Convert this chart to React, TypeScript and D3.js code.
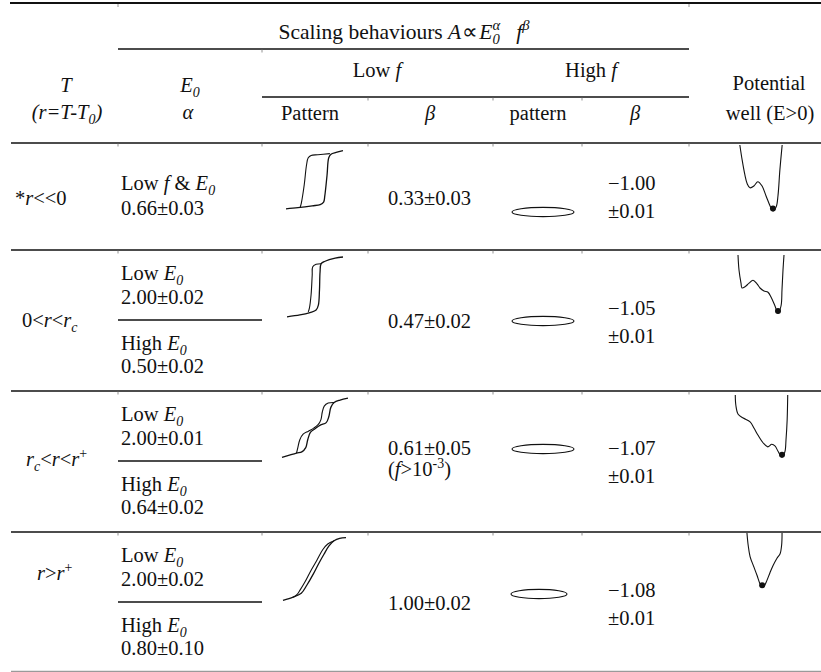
import React from "react";
import * as d3 from "d3";

type Seg = { t: string; i?: boolean; sub?: boolean; sup?: boolean; dx?: number };
const S = (t: string): Seg => ({ t });
const I = (t: string): Seg => ({ t, i: true });
const Sub = (t: string, i = true): Seg => ({ t, i, sub: true });
const Sup = (t: string, i = false): Seg => ({ t, i, sup: true });

// ---------------- data ----------------
const regimeLabels: Seg[][] = [
  [S("*"), I("r"), S("<<0")],
  [S("0<"), I("r"), S("<"), I("r"), Sub("c")],
  [I("r"), Sub("c"), S("<"), I("r"), S("<"), I("r"), Sup("+")],
  [I("r"), S(">"), I("r"), Sup("+")],
];
const alphaLowCond: Seg[][] = [
  [S("Low "), I("f"), S(" & "), I("E"), Sub("0")],
  [S("Low "), I("E"), Sub("0")],
  [S("Low "), I("E"), Sub("0")],
  [S("Low "), I("E"), Sub("0")],
];
const alphaLowVal = ["0.66±0.03", "2.00±0.02", "2.00±0.01", "2.00±0.02"];
const alphaHighCond: (Seg[] | null)[] = [
  null,
  [S("High "), I("E"), Sub("0")],
  [S("High "), I("E"), Sub("0")],
  [S("High "), I("E"), Sub("0")],
];
const alphaHighVal = ["", "0.50±0.02", "0.64±0.02", "0.80±0.10"];
const betaLowVal = ["0.33±0.03", "0.47±0.02", "0.61±0.05", "1.00±0.02"];
const betaLowNote: (Seg[] | null)[] = [null, null, [S("("), I("f"), S(">10"), Sup("-3"), S(")")], null];
const betaHighVal = ["−1.00", "−1.05", "−1.07", "−1.08"];
const betaHighErr = ["±0.01", "±0.01", "±0.01", "±0.01"];

// low-f hysteresis patterns (unit box 0..100, y down): rising & falling branches
const loopUp: [number, number][][] = [
  [[0, 98], [21, 96], [46, 93], [60, 91], [66, 87], [68, 77], [72, 42], [75, 13], [79, 7], [88, 4], [100, 1]],
  [[0, 98], [23, 95], [41, 91], [52, 87], [56, 79], [58, 54], [59, 25], [61, 11], [68, 7], [86, 2], [100, 0]],
  [[0, 99], [22, 92], [30, 90], [36, 83], [39, 70], [43, 58], [50, 52], [58, 46], [67, 42], [71, 32], [74, 17], [79, 9], [88, 5], [100, 2]],
  [[0, 99], [16, 94], [29, 88], [38, 75], [48, 58], [57, 41], [65, 27], [73, 14], [81, 6], [90, 2], [100, 1]],
];
const loopDown: [number, number][][] = [
  [[77, 6], [56, 8], [44, 9], [39, 13], [36, 25], [32, 58], [27, 88], [25, 95]],
  [[61, 11], [52, 12], [46, 16], [45, 30], [43, 62], [40, 84], [38, 90]],
  [[79, 9], [70, 10], [64, 15], [61, 25], [59, 37], [55, 45], [48, 51], [40, 56], [32, 61], [27, 70], [24, 83], [22, 92]],
  [[81, 6], [71, 11], [63, 20], [54, 36], [44, 53], [35, 70], [27, 83], [22, 90], [16, 94]],
];
// potential wells (unit box 0..100) and the ball position
const wellCurve: [number, number][][] = [
  [[4, 0], [9, 22], [15, 44], [20, 57], [26, 63], [35, 60], [43, 54], [52, 60], [61, 75], [70, 90], [76, 97], [83, 91], [87, 74], [91, 37], [96, 0]],
  [[4, 0], [6, 25], [10, 47], [12, 55], [18, 53], [26, 47], [34, 42], [42, 48], [48, 55], [56, 60], [64, 62], [70, 70], [78, 85], [84, 97], [90, 85], [92, 58], [94, 25], [96, 0]],
  [[4, 0], [5, 16], [9, 30], [18, 36], [30, 42], [37, 52], [44, 63], [53, 75], [61, 81], [68, 77], [74, 80], [79, 88], [86, 97], [91, 89], [93, 70], [95, 39], [96, 0]],
  [[5, 0], [8, 21], [13, 42], [23, 61], [31, 76], [38, 90], [44, 97], [49, 95], [56, 85], [64, 71], [72, 58], [82, 45], [90, 37], [94, 21], [95, 0]],
];
const wellBall: [number, number][] = [[76, 95], [84, 95], [86, 95], [44, 95]];

// ---------------- layout ----------------
const FS = 20.5;
const FONT = "'Liberation Serif','Times New Roman',Times,serif";
const INK = "#111";
const colEdges = [118, 262, 368, 493, 582, 689];
const rowLines = [143, 250, 391, 532];
const rowDiv = [null, 320, 461, 602];
const regimeX = [15, 22, 26, 37];
const regimeY = [205, 327, 466, 580];
const loopBox = [
  [286, 343, 150, 210],
  [287, 343, 257, 318],
  [282, 348, 397, 458],
  [283, 346, 537, 601],
];
const wellBox = [
  [738, 784, 145, 213],
  [736, 786, 255, 315],
  [733, 790, 395, 459],
  [745, 784, 533, 589],
];
const ellipseC = [
  [543, 212, 31],
  [543, 321, 31],
  [543, 449, 31],
  [539, 594, 28],
];
const betaLowY = [205, 328, 455, 610];
const betaHighY = [190, 315, 455, 597];

function Rich({ x, y, segs, anchor = "start", size = FS, italic = false }: { x: number; y: number; segs: Seg[]; anchor?: string; size?: number; italic?: boolean }) {
  let cur = 0;
  const kids = segs.map((s, k) => {
    const target = s.sub ? size * 0.24 : s.sup ? -size * 0.4 : 0;
    const dy = target - cur;
    cur = target;
    return (
      <tspan key={k} dx={s.dx} dy={dy} fontStyle={s.i || italic ? "italic" : "normal"} fontSize={s.sub || s.sup ? size * 0.68 : size}>
        {s.t}
      </tspan>
    );
  });
  return (
    <text x={x} y={y} textAnchor={anchor as any} fontSize={size} fontFamily={FONT} fill={INK} style={{ whiteSpace: "pre" }}>
      {kids}
    </text>
  );
}

function Txt({ x, y, t, anchor = "start", italic = false }: { x: number; y: number; t: string; anchor?: string; italic?: boolean }) {
  return (
    <text x={x} y={y} textAnchor={anchor as any} fontSize={FS} fontFamily={FONT} fill={INK} fontStyle={italic ? "italic" : "normal"}>
      {t}
    </text>
  );
}

function glyphPath(pts: [number, number][], box: number[]) {
  const xs = d3.scaleLinear().domain([0, 100]).range([box[0], box[1]]);
  const ys = d3.scaleLinear().domain([0, 100]).range([box[2], box[3]]);
  const line = d3
    .line<[number, number]>()
    .x((d) => xs(d[0]))
    .y((d) => ys(d[1]))
    .curve(d3.curveCatmullRom.alpha(0.5));
  return line(pts) || "";
}

export default function App() {
  const hl = (y: number, x1: number, x2: number, w = 1.3, c = INK) => (
    <line key={`h${y}-${x1}`} x1={x1} x2={x2} y1={y} y2={y} stroke={c} strokeWidth={w} />
  );
  const ticks = (y: number, xs: number[]) =>
    xs.map((x) => <line key={`t${y}-${x}`} x1={x} x2={x} y1={y} y2={y + 3} stroke="#777" strokeWidth={0.8} />);

  return (
    <svg width={821} height={672} style={{ display: "block", position: "absolute", left: 0, top: 0, background: "#fff" }}>
      <rect width={821} height={672} fill="#fff" />
      {/* rules */}
      {hl(3, 10, 821, 2.2)}
      {ticks(4, [118, 689])}
      {hl(49, 118, 689)}
      {ticks(49.5, [262])}
      {hl(97, 262, 689)}
      {ticks(97.5, [368, 493, 582])}
      {rowLines.map((y) => hl(y, 11, 821))}
      {rowLines.map((y) => ticks(y + 0.5, colEdges))}
      {hl(671.5, 11, 821, 1.3, "#9a9a9a")}
      {rowDiv.map((y) => (y ? hl(y, 118, 262) : null))}

      {/* header */}
      <Rich
        x={404}
        y={39}
        anchor="middle"
        size={21.5}
        segs={[S("Scaling behaviours "), I("A"), { t: "∝", dx: 1 }, { t: "E", i: true, dx: 1 }, Sub("0"), { t: "α", i: true, sup: true, dx: -7.3 }, S("   "), I("f"), Sup("β", true)]}
      />
      <Rich x={377} y={77} anchor="middle" segs={[S("Low "), I("f")]} />
      <Rich x={591} y={77} anchor="middle" segs={[S("High "), I("f")]} />
      <Txt x={66} y={92} t="T" anchor="middle" italic />
      <Rich x={67} y={119} anchor="middle" italic segs={[S("(r=T-T"), Sub("0"), S(")")]} />
      <Rich x={190} y={92} anchor="middle" segs={[I("E"), Sub("0")]} />
      <Txt x={188} y={119} t="α" anchor="middle" italic />
      <Txt x={310} y={120} t="Pattern" anchor="middle" />
      <Txt x={430} y={120} t="β" anchor="middle" italic />
      <Txt x={538} y={120} t="pattern" anchor="middle" />
      <Txt x={635} y={120} t="β" anchor="middle" italic />
      <Txt x={769} y={90} t="Potential" anchor="middle" />
      <Txt x={770} y={120} t="well (E>0)" anchor="middle" />

      {/* body rows */}
      {regimeLabels.map((segs, r) => {
        const div = rowDiv[r];
        const top = rowLines[r];
        return (
          <g key={`row${r}`}>
            <Rich x={regimeX[r]} y={regimeY[r]} segs={segs} />
            {div === null ? (
              <>
                <Rich x={121} y={top + 47} segs={alphaLowCond[r]} />
                <Txt x={121} y={top + 72} t={alphaLowVal[r]} />
              </>
            ) : (
              <>
                <Rich x={121} y={div - 40} segs={alphaLowCond[r]} />
                <Txt x={121} y={div - 16} t={alphaLowVal[r]} />
                {alphaHighCond[r] && <Rich x={121} y={div + 30} segs={alphaHighCond[r] as Seg[]} />}
                <Txt x={121} y={div + 53} t={alphaHighVal[r]} />
              </>
            )}
            <path d={glyphPath(loopUp[r], loopBox[r])} fill="none" stroke={INK} strokeWidth={1.3} />
            <path d={glyphPath(loopDown[r], loopBox[r])} fill="none" stroke={INK} strokeWidth={1.1} />
            <Txt x={388} y={betaLowY[r]} t={betaLowVal[r]} />
            {betaLowNote[r] && <Rich x={388} y={betaLowY[r] + 21} segs={betaLowNote[r] as Seg[]} />}
            <ellipse cx={ellipseC[r][0]} cy={ellipseC[r][1]} rx={ellipseC[r][2]} ry={4.6} fill="none" stroke={INK} strokeWidth={1.1} />
            <Txt x={608} y={betaHighY[r]} t={betaHighVal[r]} />
            <Txt x={608} y={betaHighY[r] + 28} t={betaHighErr[r]} />
            <path d={glyphPath(wellCurve[r], wellBox[r])} fill="none" stroke={INK} strokeWidth={1.1} />
            {(() => {
              const b = wellBox[r];
              const xs = d3.scaleLinear().domain([0, 100]).range([b[0], b[1]]);
              const ys = d3.scaleLinear().domain([0, 100]).range([b[2], b[3]]);
              return <circle cx={xs(wellBall[r][0])} cy={ys(wellBall[r][1]) - 1} r={3} fill={INK} />;
            })()}
          </g>
        );
      })}
    </svg>
  );
}
